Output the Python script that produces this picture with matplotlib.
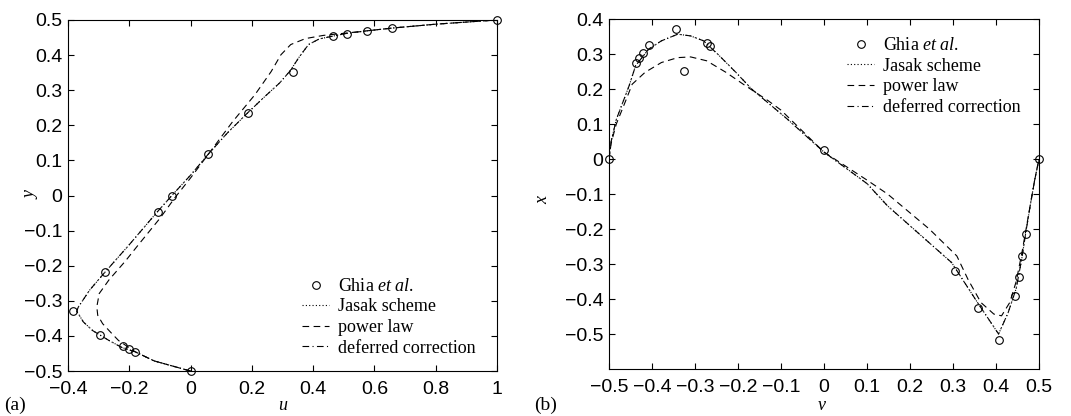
import numpy as np
import matplotlib.pyplot as plt

plt.rcParams['font.family'] = ['Liberation Sans', 'DejaVu Sans']
plt.rcParams['mathtext.fontset'] = 'custom'
plt.rcParams['mathtext.rm'] = 'Liberation Serif'
plt.rcParams['mathtext.it'] = 'Liberation Serif:italic'

# ---- panel (a): u along vertical centreline ----
ghia_u = [1.0, 0.659, 0.575, 0.511, 0.466, 0.333, 0.187, 0.057, -0.061,
          -0.106, -0.278, -0.383, -0.297, -0.222, -0.202, -0.181, 0.0]
ghia_y = [0.5, 0.477, 0.469, 0.461, 0.453, 0.352, 0.234, 0.117, 0.0,
          -0.047, -0.219, -0.328, -0.398, -0.430, -0.437, -0.445, -0.5]

jasak_a_u = [0.0, -0.119, -0.181, -0.224, -0.266, -0.319, -0.350, -0.366, -0.372,
             -0.366, -0.329, -0.282, -0.200, -0.110, -0.061, 0.0, 0.057, 0.120,
             0.187, 0.240, 0.290, 0.325, 0.355, 0.385, 0.420, 0.470, 0.511, 0.575,
             0.659, 0.800, 1.0]
jasak_a_y = [-0.5, -0.471, -0.445, -0.433, -0.413, -0.385, -0.360, -0.337, -0.330,
             -0.317, -0.269, -0.221, -0.140, -0.048, 0.0, 0.058, 0.117, 0.178,
             0.236, 0.280, 0.320, 0.355, 0.395, 0.430, 0.446, 0.455, 0.462, 0.469,
             0.477, 0.488, 0.5]

power_a_u = [0.0, -0.119, -0.181, -0.235, -0.256, -0.287, -0.303, -0.306, -0.298,
             -0.266, -0.214, -0.170, -0.100, -0.050, 0.0, 0.060, 0.137, 0.210,
             0.263, 0.295, 0.327, 0.375, 0.433, 0.511, 0.575, 0.659, 0.800, 1.0]
power_a_y = [-0.5, -0.471, -0.445, -0.413, -0.394, -0.365, -0.341, -0.317, -0.279,
             -0.240, -0.188, -0.140, -0.065, -0.005, 0.050, 0.120, 0.210, 0.287,
             0.353, 0.401, 0.430, 0.447, 0.456, 0.463, 0.469, 0.477, 0.488, 0.5]

deferred_a_u = jasak_a_u
deferred_a_y = jasak_a_y

# ---- panel (b): v along horizontal centreline ----
ghia_v = [-0.5, -0.437, -0.430, -0.422, -0.406, -0.344, -0.326, -0.273, -0.266,
          0.0, 0.305, 0.359, 0.406, 0.445, 0.453, 0.461, 0.469, 0.5]
ghia_x = [0.0, 0.275, 0.290, 0.304, 0.326, 0.371, 0.252, 0.331, 0.322,
          0.025, -0.320, -0.427, -0.516, -0.392, -0.337, -0.277, -0.214, 0.0]

jasak_b_v = [-0.5, -0.495, -0.483, -0.453, -0.438, -0.408, -0.378, -0.340, -0.310,
             -0.280, -0.243, -0.205, -0.168, -0.085, 0.0, 0.100, 0.148, 0.297,
             0.357, 0.406, 0.428, 0.447, 0.460, 0.470, 0.480, 0.490, 0.5]
jasak_b_x = [0.0, 0.050, 0.113, 0.210, 0.267, 0.314, 0.338, 0.357, 0.352,
             0.338, 0.295, 0.248, 0.200, 0.114, 0.020, -0.070, -0.134, -0.296,
             -0.410, -0.500, -0.440, -0.370, -0.285, -0.205, -0.130, -0.060, 0.0]

power_b_v = [-0.5, -0.495, -0.483, -0.461, -0.446, -0.416, -0.378, -0.340, -0.310,
             -0.273, -0.228, -0.183, -0.130, -0.100, 0.0, 0.100, 0.148, 0.245,
             0.309, 0.335, 0.365, 0.395, 0.413, 0.432, 0.447, 0.460, 0.470, 0.480,
             0.490, 0.5]
power_b_x = [0.0, 0.045, 0.100, 0.167, 0.214, 0.248, 0.276, 0.290, 0.292,
             0.281, 0.248, 0.210, 0.167, 0.140, 0.020, -0.060, -0.100, -0.200,
             -0.277, -0.344, -0.410, -0.443, -0.448, -0.410, -0.350, -0.270, -0.200,
             -0.130, -0.060, 0.0]

deferred_b_v = jasak_b_v
deferred_b_x = jasak_b_x

ghia_label = r'Ghia $\mathit{et\ al.}$'
labels = [ghia_label, 'Jasak scheme', 'power law', 'deferred correction']


def draw_panel(ax, gx, gy, jx, jy, px, py, dx, dy):
    lw = 0.8
    ax.plot(gx, gy, 'o', mfc='none', mec='k', ms=5.5, mew=0.8, label=labels[0],
            clip_on=False, zorder=5)
    ax.plot(jx, jy, color='k', lw=lw, ls=(0, (1, 2)), label=labels[1])
    ax.plot(px, py, color='k', lw=lw, ls=(0, (6, 4)), label=labels[2])
    ax.plot(dx, dy, color='k', lw=lw, ls=(0, (6, 3, 1, 3)), label=labels[3])
    ax.tick_params(direction='in', top=True, right=True, labelsize=14,
                   length=4, width=0.8, pad=4)
    ax.tick_params(axis='x', pad=7)
    for s in ax.spines.values():
        s.set_linewidth(0.8)


def minus(vals):
    out = []
    for v in vals:
        if abs(v) < 1e-9:
            out.append('0')
        elif v > 0:
            out.append('%g' % v)
        else:
            out.append('\u2212%g' % -v)
    return out


fig = plt.figure(figsize=(10.71, 4.16), dpi=100)
ax1 = fig.add_axes([0.0635, 0.108, 0.4005, 0.844])
ax2 = fig.add_axes([0.5686, 0.113, 0.4015, 0.841])

draw_panel(ax1, ghia_u, ghia_y, jasak_a_u, jasak_a_y, power_a_u, power_a_y,
           deferred_a_u, deferred_a_y)
ax1.set_xlim(-0.4, 1.0)
ax1.set_ylim(-0.5, 0.5)
xt = np.round(np.arange(-0.4, 1.01, 0.2), 1)
ax1.set_xticks(xt)
ax1.set_xticklabels(minus(xt))
yt = np.round(np.arange(-0.5, 0.51, 0.1), 1)
ax1.set_yticks(yt)
ax1.set_yticklabels(minus(yt))

draw_panel(ax2, ghia_v, ghia_x, jasak_b_v, jasak_b_x, power_b_v, power_b_x,
           deferred_b_v, deferred_b_x)
ax2.set_xlim(-0.5, 0.5)
ax2.set_ylim(-0.6, 0.4)
xt = np.round(np.arange(-0.5, 0.51, 0.1), 1)
ax2.set_xticks(xt)
ax2.set_xticklabels(minus(xt))
yt = np.round(np.arange(-0.5, 0.41, 0.1), 1)
ax2.set_yticks(yt)
ax2.set_yticklabels(minus(yt))

serif = {'family': 'Liberation Serif', 'size': 13}
leg_kw = dict(frameon=False, prop=serif, handlelength=1.5, handletextpad=0.5,
              labelspacing=0.2, borderpad=0, borderaxespad=0, loc='upper left',
              bbox_transform=fig.transFigure)
ax1.legend(bbox_to_anchor=(0.282, 0.332), **leg_kw)
ax2.legend(bbox_to_anchor=(0.791, 0.911), **leg_kw)

fig.text(283 / 1071, 1 - 405 / 416, 'u', ha='center', va='center',
         family='Liberation Serif', style='italic', fontsize=13)
fig.text(31 / 1071, 1 - 195 / 416, 'y', ha='center', va='center',
         family='Liberation Serif', style='italic', fontsize=13, rotation=90)
fig.text(822 / 1071, 1 - 405 / 416, 'v', ha='center', va='center',
         family='Liberation Serif', style='italic', fontsize=13)
fig.text(543 / 1071, 1 - 200 / 416, 'x', ha='center', va='center',
         family='Liberation Serif', style='italic', fontsize=13, rotation=90)
fig.text(4 / 1071, 1 - 405 / 416, '(a)', ha='left', va='center',
         family='Liberation Serif', fontsize=14)
fig.text(534 / 1071, 1 - 405 / 416, '(b)', ha='left', va='center',
         family='Liberation Serif', fontsize=14)

fig.savefig('out.png', dpi=100)
